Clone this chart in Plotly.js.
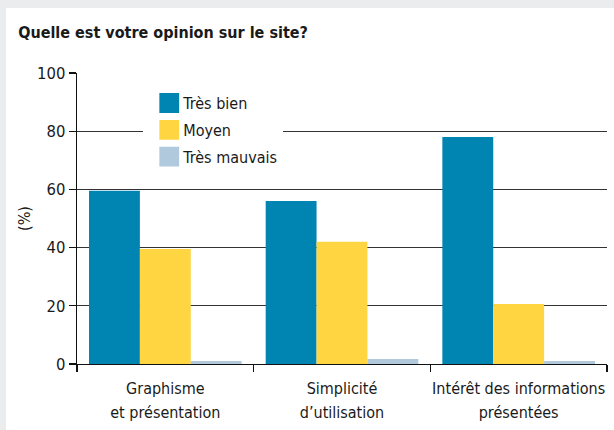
<!DOCTYPE html>
<html>
<head>
<meta charset="utf-8">
<script src="https://cdn.plot.ly/plotly-3.0.1.min.js"></script>
<style>
  body { margin: 0; background: #ebeced; width: 614px; height: 430px; overflow: hidden; }
  #chart { position: absolute; left: 6px; top: 8px; width: 608px; height: 422px; }
</style>
</head>
<body>
<div id="chart"></div>
<script>
let categories = ['Graphisme<br>et présentation', 'Simplicité<br>d’utilisation', 'Intérêt des informations<br>présentées']
let series_names = ['Très bien', 'Moyen', 'Très mauvais']
let tres_bien = [59.5, 56, 78]
let moyen = [39.5, 42, 20.6]
let tres_mauvais = [1, 1.7, 1]
let colors = ['#0085b2', '#ffd542', '#b1c9dd']

let font_family = '"DejaVu Sans Condensed", "Liberation Sans Narrow", sans-serif'

let series_values = [tres_bien, moyen, tres_mauvais]
let traces = []
for (let i = 0; i < series_values.length; i++) {
  traces.push({
    type: 'bar',
    name: series_names[i],
    x: categories,
    y: series_values[i],
    marker: {color: colors[i], line: {width: 0}},
    hoverinfo: 'none'
  })
}

let layout = {
  width: 608,
  height: 422,
  paper_bgcolor: '#ffffff',
  plot_bgcolor: '#ffffff',
  margin: {l: 71, r: 7, t: 65, b: 66},
  font: {family: font_family, size: 16, color: '#1a1a1a'},
  title: {
    text: '<b>Quelle est votre opinion sur le site?</b>',
    font: {family: font_family, size: 16, color: '#1a1a1a'},
    x: 0.02, xref: 'container', xanchor: 'left',
    y: 0.943, yref: 'container', yanchor: 'middle'
  },
  barmode: 'group',
  bargap: 0.136,
  bargroupgap: 0,
  xaxis: {
    type: 'category',
    tickson: 'boundaries',
    ticks: 'outside',
    ticklen: 7,
    tickwidth: 1.3,
    tickcolor: '#111',
    tickangle: 0,
    ticklabelstandoff: 9,
    showline: true,
    linecolor: '#111',
    linewidth: 1.3,
    showgrid: false,
    tickfont: {size: 16, color: '#1a1a1a'},
    fixedrange: true
  },
  yaxis: {
    range: [0, 100],
    dtick: 20,
    ticks: 'outside',
    ticklen: 7,
    tickwidth: 1.3,
    tickcolor: '#111',
    showline: true,
    linecolor: '#111',
    linewidth: 1.3,
    showgrid: true,
    gridcolor: '#333',
    gridwidth: 1.3,
    zeroline: false,
    tickfont: {size: 16.5, color: '#1a1a1a'},
    title: {text: '(%)', font: {size: 16, color: '#1a1a1a'}, standoff: 2},
    fixedrange: true
  },
  legend: {
    x: 0.125, y: 0.955, xanchor: 'left', yanchor: 'top',
    bgcolor: '#ffffff',
    font: {size: 16, color: '#1a1a1a'},
    tracegroupgap: 0
  },
  showlegend: true
}

Plotly.newPlot('chart', traces, layout, {displayModeBar: false, staticPlot: true}).then(function () {
  // bigger legend swatches and a bit more room between rows, like the printed chart
  document.querySelectorAll('.legendpoints path').forEach(function (p) {
    p.setAttribute('transform', 'translate(26,0) scale(1.65)')
  })
  document.querySelectorAll('.legend .traces').forEach(function (g, i) {
    let m = /translate\(([-\d.]+),\s*([-\d.]+)\)/.exec(g.getAttribute('transform') || '')
    if (m) g.setAttribute('transform', 'translate(' + m[1] + ',' + (Number(m[2]) + i * 3) + ')')
  })
  let bg = document.querySelector('.legend .bg')
  if (bg) bg.setAttribute('height', Number(bg.getAttribute('height')) + 6)
  // looser line spacing in the two-line category labels
  document.querySelectorAll('.xtick text tspan.line').forEach(function (t) {
    if (t.getAttribute('dy') === '1.3em') t.setAttribute('dy', '1.5em')
  })
})
</script>
</body>
</html>
